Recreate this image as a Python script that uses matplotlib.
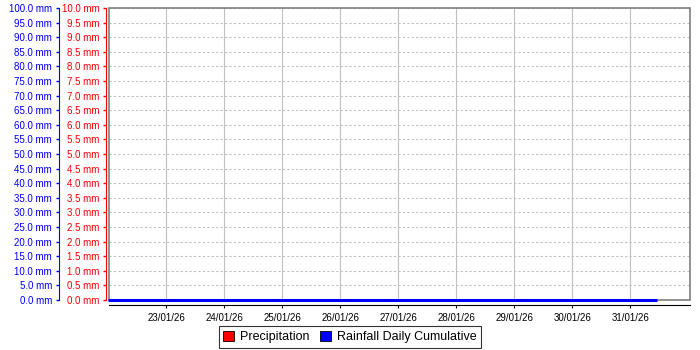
import matplotlib.pyplot as plt
import matplotlib.dates as mdates
from matplotlib.patches import Rectangle
import pandas as pd

plt.rcParams['font.family'] = ['Liberation Sans', 'DejaVu Sans']

# precipitation (daily bars), mm
precip_days = ['2026-01-22', '2026-01-23', '2026-01-24', '2026-01-25', '2026-01-26',
               '2026-01-27', '2026-01-28', '2026-01-29', '2026-01-30', '2026-01-31']
precip_values = [0.0, 0.0, 0.0, 0.0, 0.0, 0.0, 0.0, 0.0, 0.0, 0.0]

# rainfall daily cumulative, mm
cum_times = ['2026-01-22 00:00', '2026-01-23 00:00', '2026-01-24 00:00', '2026-01-25 00:00',
             '2026-01-26 00:00', '2026-01-27 00:00', '2026-01-28 00:00', '2026-01-29 00:00',
             '2026-01-30 00:00', '2026-01-31 00:00', '2026-01-31 11:00']
cum_values = [0.0, 0.0, 0.0, 0.0, 0.0, 0.0, 0.0, 0.0, 0.0, 0.0, 0.0]

x_start = pd.Timestamp('2026-01-22 00:20')
x_end = pd.Timestamp('2026-02-01 00:40')
tick_days = pd.date_range('2026-01-23', '2026-01-31', freq='D')

fig = plt.figure(figsize=(7, 3.5), dpi=100)
ax = fig.add_axes([109 / 700, 1 - 300 / 350, 581 / 700, 292 / 350])
ax.set_facecolor('white')

ax.bar(pd.to_datetime(precip_days), precip_values, width=0.8, color='red', align='edge')
ax.set_ylim(0, 10)
ax.set_xlim(x_start, x_end)
ax.set_xticks(tick_days)
ax.xaxis.set_major_formatter(mdates.DateFormatter('%d/%m/%y'))

ax2 = ax.twinx()
ax2.plot(pd.to_datetime(cum_times), cum_values, color='blue', linewidth=2.2,
         solid_capstyle='butt', clip_on=False, zorder=5)
ax2.set_ylim(0, 100)
ax2.yaxis.set_ticks_position('left')
ax2.spines['left'].set_visible(True)
ax2.spines['left'].set_position(('outward', 36))
ax2.spines['left'].set_color('blue')
for s in ['top', 'right', 'bottom']:
    ax2.spines[s].set_visible(False)
ax2.set_yticks([i * 5 for i in range(21)])
ax2.set_yticklabels(['%.1f mm' % (i * 5) for i in range(21)])
ax2.tick_params(axis='y', length=2, width=1, color='blue', labelcolor='blue',
                labelsize=7, pad=3)

# red axis (set after twinx so nothing resets it)
ax.yaxis.set_ticks_position('left')
ax.set_yticks([i * 0.5 for i in range(21)])
ax.set_yticklabels(['%.1f mm' % (i * 0.5) for i in range(21)])
ax.tick_params(axis='y', length=2, width=1, color='red', labelcolor='red',
               labelsize=7, pad=3)
ax.tick_params(axis='x', labelsize=7, length=2, color='black', pad=4)

for s in ['top', 'right']:
    ax.spines[s].set_visible(False)
ax.spines['left'].set_color('red')
ax.spines['left'].set_position(('outward', 2))
ax.spines['bottom'].set_color('black')
ax.spines['bottom'].set_position(('outward', 3.6))

ax.grid(axis='x', color='#c0c0c0', linestyle='-', linewidth=0.8)
ax.grid(axis='y', color='#c0c0c0', linestyle=(0, (2, 2)), linewidth=0.8)
ax.set_axisbelow(True)
ax.add_patch(Rectangle((0, 0), 1, 1, transform=ax.transAxes, fill=False,
                       edgecolor='#808080', linewidth=1.2, clip_on=False, zorder=3))

handles = [Rectangle((0, 0), 1, 1, facecolor='red', edgecolor='black', linewidth=0.6),
           Rectangle((0, 0), 1, 1, facecolor='blue', edgecolor='black', linewidth=0.6)]
leg = fig.legend(handles, ['Precipitation', 'Rainfall Daily Cumulative'],
                 loc='center', bbox_to_anchor=(350 / 700, 1 - 337 / 350), ncol=2,
                 fontsize=9, frameon=True, fancybox=False, handlelength=0.9,
                 handleheight=0.9, handletextpad=0.5, columnspacing=0.8,
                 borderpad=0.35, edgecolor='black')
leg.get_frame().set_linewidth(0.8)

fig.savefig('out.png', dpi=100, facecolor='white')
